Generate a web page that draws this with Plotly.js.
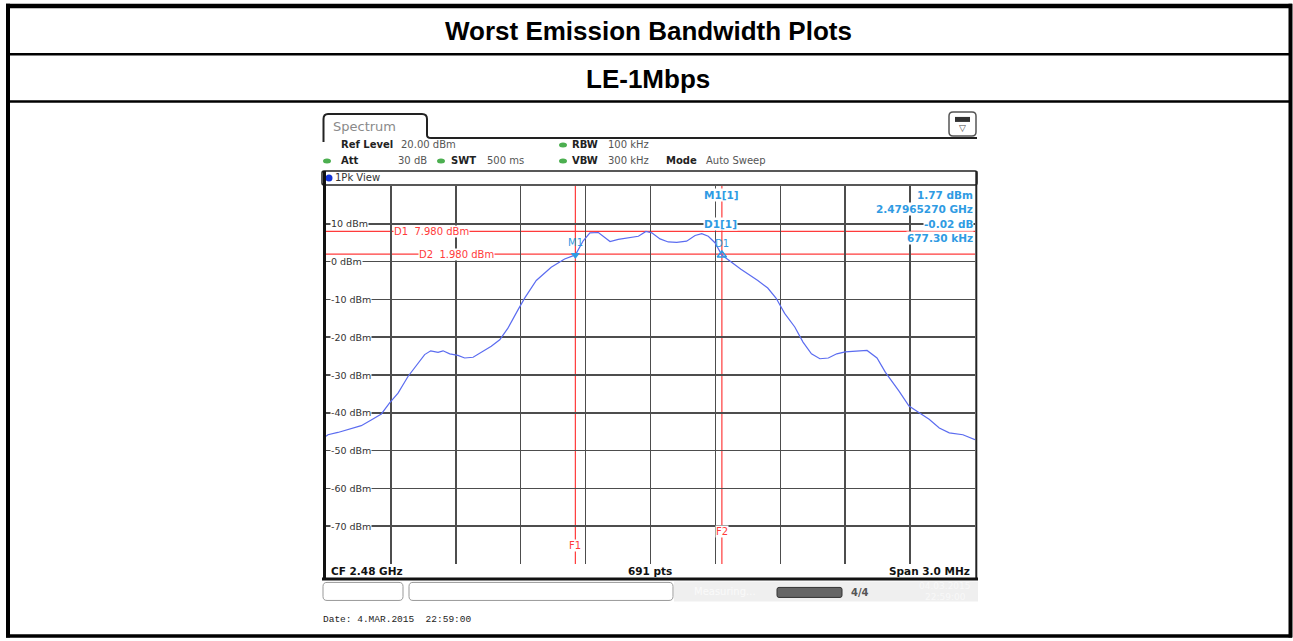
<!DOCTYPE html>
<html><head><meta charset="utf-8">
<script src="https://cdn.plot.ly/plotly-3.0.1.min.js"></script>
<style>html,body{margin:0;padding:0;background:#fff;overflow:hidden}#chart{width:1293px;height:641px}</style>
</head><body><div id="chart"></div>
<script>
// ---------------- DATA ----------------
const titleText = 'Worst Emission Bandwidth Plots';
const subtitleText = 'LE-1Mbps';
const freqMHz = [2478.500, 2478.509, 2478.555, 2478.602, 2478.663, 2478.709, 2478.756, 2478.794, 2478.833, 2478.879,
                 2478.925, 2478.956, 2478.984, 2479.018, 2479.041, 2479.072, 2479.110, 2479.141, 2479.180, 2479.218,
                 2479.264, 2479.303, 2479.341, 2479.388, 2479.419, 2479.472, 2479.511, 2479.541, 2479.603, 2479.653,
                 2479.689, 2479.720, 2479.759, 2479.782, 2479.813, 2479.851, 2479.905, 2479.944, 2479.979, 2480.006,
                 2480.044, 2480.082, 2480.121, 2480.167, 2480.206, 2480.237, 2480.267, 2480.298, 2480.330, 2480.368,
                 2480.418, 2480.496, 2480.542, 2480.581, 2480.620, 2480.667, 2480.705, 2480.744, 2480.783, 2480.822,
                 2480.861, 2480.900, 2480.946, 2481.001, 2481.047, 2481.086, 2481.148, 2481.195, 2481.242, 2481.288,
                 2481.335, 2481.381, 2481.444, 2481.500];
const levelDBm = [-46.2, -45.8, -45.2, -44.5, -43.4, -41.9, -40.3, -37.4, -34.8, -30.4,
                  -26.8, -24.6, -23.6, -24.0, -23.6, -24.4, -24.8, -25.5, -25.3, -24.0,
                  -22.4, -20.7, -17.6, -12.7, -9.6, -5.0, -3.0, -1.5, 0.7, 1.77,
                  5.5, 7.6, 7.7, 6.7, 5.3, 5.9, 6.3, 6.7, 7.98, 7.6,
                  6.0, 5.2, 5.1, 5.4, 6.9, 7.4, 6.7, 5.0, 1.75, 0.1,
                  -2.0, -5.0, -7.0, -9.7, -13.7, -17.3, -21.3, -24.4, -25.7, -25.5,
                  -24.4, -23.9, -23.7, -23.5, -25.5, -29.3, -34.2, -38.2, -40.0, -41.7,
                  -44.0, -45.3, -45.8, -47.1];
const xRangeMHz = [2478.5, 2481.5];
const yRangeDBm = [-80, 20];
const yTickValues = [10, 0, -10, -20, -30, -40, -50, -60, -70];
const yTickLabels = ['10 dBm', '0 dBm', '-10 dBm', '-20 dBm', '-30 dBm', '-40 dBm', '-50 dBm', '-60 dBm', '-70 dBm'];
const refLineLevels = [7.98, 1.98];
const refLineLabels = ['D1\u00a0 7.980 dBm', 'D2\u00a0 1.980 dBm'];
const freqLineValues = [2479.6527, 2480.32995];
const freqLineLabels = ['F1', 'F2'];
const markerFreqs = [2479.6527, 2480.32995];
const markerLevels = [1.77, 1.75];
const markerNames = ['M1', 'D1'];
const markerInfoNames = ['M1[1]', 'D1[1]'];
const markerInfoValues = ['1.77 dBm', '2.47965270 GHz', '-0.02 dB', '677.30 kHz'];
const headerLeft = [['Ref Level', '20.00 dBm'], ['Att', '30 dB'], ['SWT', '500 ms']];
const headerMid = [['RBW', '100 kHz'], ['VBW', '300 kHz']];
const headerMode = ['Mode', 'Auto Sweep'];
const footerTexts = ['CF 2.48 GHz', '691 pts', 'Span 3.0 MHz'];
const traceLabel = '1Pk View';
const tabLabel = 'Spectrum';
const dateText = 'Date: 4.MAR.2015\u00a0\u00a022:59:00';

// ---------------- GEOMETRY HELPERS ----------------
const L = 326, R = 975, T = 186, B = 563.6;
const X = x => (x - L) / (R - L);
const Y = y => (B - y) / (B - T);
const INST = 'DejaVu Sans, Verdana, sans-serif';
const BLUE = '#2f9be3';
const RED = '#ff3b3b';

const shapes = [];
const ann = [];
function line(x0, y0, x1, y1, color, width, layer) {
  shapes.push({type: 'line', xref: 'paper', yref: 'paper', x0: X(x0), y0: Y(y0), x1: X(x1), y1: Y(y1),
    line: {color: color, width: width}, layer: layer || 'above'});
}
function rect(x0, y0, x1, y1, fill, lcolor, lwidth, layer) {
  shapes.push({type: 'rect', xref: 'paper', yref: 'paper', x0: X(x0), y0: Y(y0), x1: X(x1), y1: Y(y1),
    fillcolor: fill, line: {color: lcolor || 'rgba(0,0,0,0)', width: lwidth || 0}, layer: layer || 'above'});
}
function rrect(x0, y0, x1, y1, r, lcolor, lw, fill) {
  const p = `M ${X(x0 + r)},${Y(y0)} L ${X(x1 - r)},${Y(y0)} Q ${X(x1)},${Y(y0)} ${X(x1)},${Y(y0 + r)} ` +
    `L ${X(x1)},${Y(y1 - r)} Q ${X(x1)},${Y(y1)} ${X(x1 - r)},${Y(y1)} L ${X(x0 + r)},${Y(y1)} ` +
    `Q ${X(x0)},${Y(y1)} ${X(x0)},${Y(y1 - r)} L ${X(x0)},${Y(y0 + r)} Q ${X(x0)},${Y(y0)} ${X(x0 + r)},${Y(y0)} Z`;
  shapes.push({type: 'path', xref: 'paper', yref: 'paper', path: p, fillcolor: fill || 'rgba(0,0,0,0)',
    line: {color: lcolor, width: lw}, layer: 'above'});
}
function dot(cx, cy, rx, ry, color) {
  shapes.push({type: 'circle', xref: 'paper', yref: 'paper', x0: X(cx - rx), x1: X(cx + rx), y0: Y(cy - ry), y1: Y(cy + ry),
    fillcolor: color, line: {width: 0}, layer: 'above'});
}
function text(x, y, t, opts) {
  opts = opts || {};
  ann.push({xref: 'paper', yref: 'paper', x: X(x), y: Y(y), text: t, showarrow: false,
    xanchor: opts.xa || 'left', yanchor: 'middle',
    font: {family: opts.family || INST, size: opts.size || 10, color: opts.color || '#333'},
    bgcolor: opts.bg || 'rgba(0,0,0,0)', borderpad: opts.pad === undefined ? 0 : opts.pad});
}

// ---------------- OUTER TABLE ----------------
line(6, 6.3, 1292, 6.3, '#000', 4.5);
line(8, 4, 8, 637, '#000', 4);
line(1290.5, 4, 1290.5, 637, '#000', 4);
line(6, 635.5, 1292, 635.5, '#000', 3.5);
line(8, 54.3, 1290, 54.3, '#000', 2.5);
line(8, 101.7, 1290, 101.7, '#000', 2.5);
text(648, 31, '<b>' + titleText + '</b>', {xa: 'center', family: 'Liberation Sans, Arial, sans-serif', size: 26, color: '#000'});
text(648, 79, '<b>' + subtitleText + '</b>', {xa: 'center', family: 'Liberation Sans, Arial, sans-serif', size: 26, color: '#000'});

// ---------------- INSTRUMENT FRAME ----------------
const tabPath = `M ${X(323.5)},${Y(142)} L ${X(323.5)},${Y(119)} Q ${X(323.5)},${Y(114)} ${X(328)},${Y(114)} ` +
  `L ${X(422)},${Y(114)} Q ${X(427)},${Y(114)} ${X(427)},${Y(119)} L ${X(427)},${Y(135)} Q ${X(427)},${Y(138)} ${X(431)},${Y(138)} L ${X(977)},${Y(138)}`;
shapes.push({type: 'path', xref: 'paper', yref: 'paper', path: tabPath, line: {color: '#222', width: 2}, layer: 'above'});
text(332, 126.5, tabLabel, {size: 13, color: '#8a8a8a'});
// icon top right
rrect(949, 112, 976, 136, 4, '#555', 1.5, '#fff');
rect(955, 117, 970, 122, '#333');
text(962.5, 128, '\u25BD', {xa: 'center', size: 9, color: '#444'});

// header parameter rows
text(340, 145, '<b>' + headerLeft[0][0] + '</b>', {color: '#222'});
text(400, 145, headerLeft[0][1], {color: '#555'});
dot(327, 161, 4, 2.5, '#4caf50');
text(340, 161, '<b>' + headerLeft[1][0] + '</b>', {color: '#222'});
text(428, 161, headerLeft[1][1], {xa: 'right', color: '#555'});
dot(441, 161, 4, 2.5, '#4caf50');
text(450, 161, '<b>' + headerLeft[2][0] + '</b>', {color: '#222'});
text(486, 161, headerLeft[2][1], {color: '#555'});
dot(563, 145, 4, 2.5, '#4caf50');
text(571, 145, '<b>' + headerMid[0][0] + '</b>', {color: '#222'});
text(607, 145, headerMid[0][1], {color: '#555'});
dot(563, 161, 4, 2.5, '#4caf50');
text(571, 161, '<b>' + headerMid[1][0] + '</b>', {color: '#222'});
text(607, 161, headerMid[1][1], {color: '#555'});
text(665, 161, '<b>' + headerMode[0] + '</b>', {color: '#222'});
text(705, 161, headerMode[1], {color: '#555'});

// trace label row
rrect(322, 171, 977, 185, 2, '#222', 1.5);
dot(329, 178, 3.5, 3.5, '#1433d6');
text(334, 178, traceLabel, {size: 10, color: '#333'});

// frame borders
line(324.5, 171, 324.5, 579, '#111', 3);
line(976.3, 171, 976.3, 579, '#222', 2);
line(322, 578.5, 978, 578.5, '#111', 3);
// footer
text(330, 571, '<b>' + footerTexts[0] + '</b>', {size: 10.5, color: '#111'});
text(650, 571, '<b>' + footerTexts[1] + '</b>', {xa: 'center', size: 10.5, color: '#111'});
text(971, 571, '<b>' + footerTexts[2] + '</b>', {xa: 'right', size: 10.5, color: '#111'});

// status bar
rrect(323, 582, 403, 600, 4, '#999', 1);
rrect(409, 582, 673, 600, 4, '#999', 1);
rect(674, 581, 978, 601, '#efefef');
text(693, 591, 'Measuring...', {size: 10, color: '#fafafa'});
rrect(777, 587, 842, 597, 2, '#333', 1, '#666');
text(850, 592, '<b>4/4</b>', {size: 10, color: '#555'});
text(945, 586, '04.03.2015', {xa: 'center', size: 9, color: '#f8f8f8'});
text(945, 597, '22:59:00', {xa: 'center', size: 9, color: '#f8f8f8'});
text(322, 619, dateText, {family: 'Liberation Mono, Courier New, monospace', size: 9.5, color: '#222'});

// ---------------- PLOT CONTENT ----------------
// white box behind marker info (covers grid)
shapes.push({type: 'rect', xref: 'paper', yref: 'paper', x0: X(697), x1: 1, y0: Y(243), y1: 1,
  fillcolor: '#fff', line: {width: 0}, layer: 'between'});
// reference (display) lines
refLineLevels.forEach(v => shapes.push({type: 'line', xref: 'paper', yref: 'y', x0: 0, x1: 1, y0: v, y1: v,
  line: {color: RED, width: 1.2}, layer: 'between'}));
freqLineValues.forEach(v => shapes.push({type: 'line', xref: 'x', yref: 'paper', x0: v, x1: v, y0: 0, y1: 1,
  line: {color: RED, width: 1.2}, layer: 'between'}));

// y labels inside plot
yTickValues.forEach((v, i) => ann.push({xref: 'paper', yref: 'y', x: X(330), y: v, text: yTickLabels[i],
  showarrow: false, xanchor: 'left', yanchor: 'middle', bgcolor: '#fff', borderpad: 0,
  font: {family: INST, size: 9.5, color: '#333'}}));
// ref line labels
ann.push({xref: 'paper', yref: 'y', x: X(393), y: refLineLevels[0], text: refLineLabels[0], showarrow: false,
  xanchor: 'left', yanchor: 'middle', bgcolor: '#fff', borderpad: 0, font: {family: INST, size: 10, color: RED}});
ann.push({xref: 'paper', yref: 'y', x: X(418), y: refLineLevels[1], text: refLineLabels[1], showarrow: false,
  xanchor: 'left', yanchor: 'middle', bgcolor: '#fff', borderpad: 0, font: {family: INST, size: 10, color: RED}});
// freq line labels
ann.push({xref: 'x', yref: 'paper', x: freqLineValues[0], y: Y(545), text: freqLineLabels[0], showarrow: false,
  xanchor: 'center', yanchor: 'middle', bgcolor: '#fff', borderpad: 0, font: {family: INST, size: 10, color: RED}});
ann.push({xref: 'x', yref: 'paper', x: freqLineValues[1], y: Y(531), text: freqLineLabels[1], showarrow: false,
  xanchor: 'center', yanchor: 'middle', bgcolor: '#fff', borderpad: 0, font: {family: INST, size: 10, color: RED}});
// marker labels
ann.push({xref: 'x', yref: 'y', x: markerFreqs[0], y: markerLevels[0], yshift: 12, text: markerNames[0], showarrow: false,
  xanchor: 'center', yanchor: 'middle', font: {family: INST, size: 10, color: BLUE}});
ann.push({xref: 'x', yref: 'y', x: markerFreqs[1], y: markerLevels[1], yshift: 11, text: markerNames[1], showarrow: false,
  xanchor: 'center', yanchor: 'middle', font: {family: INST, size: 10, color: BLUE}});
// marker info table
text(703, 194.5, '<b>' + markerInfoNames[0] + '</b>', {size: 10.5, color: BLUE, bg: '#fff'});
text(703, 223.5, '<b>' + markerInfoNames[1] + '</b>', {size: 10.5, color: BLUE, bg: '#fff'});
[194.5, 208.5, 223.5, 238].forEach((yy, i) =>
  text(974, yy, '<b>' + markerInfoValues[i] + '</b>', {xa: 'right', size: 10.5, color: BLUE, bg: '#fff'}));

const traces = [
  {x: freqMHz, y: levelDBm, type: 'scatter', mode: 'lines', line: {color: '#5b6cf0', width: 1.2}, hoverinfo: 'skip'},
  {x: [markerFreqs[0]], y: [markerLevels[0]], type: 'scatter', mode: 'markers',
   marker: {symbol: 'triangle-down', size: 8, color: BLUE}, hoverinfo: 'skip'},
  {x: [markerFreqs[1]], y: [markerLevels[1]], type: 'scatter', mode: 'markers',
   marker: {symbol: 'triangle-up-open', size: 8, color: BLUE, line: {width: 1.5, color: BLUE}}, hoverinfo: 'skip'}
];

const layout = {
  width: 1293, height: 641,
  margin: {l: L, r: 1293 - R, t: T, b: 641 - B, pad: 0},
  paper_bgcolor: '#fff', plot_bgcolor: '#fff',
  showlegend: false,
  xaxis: {range: xRangeMHz, tick0: xRangeMHz[0], dtick: 0.3, showgrid: true, gridcolor: '#4d4d4d', gridwidth: 1.5,
          showticklabels: false, ticks: '', zeroline: false, showline: false, fixedrange: true},
  yaxis: {range: yRangeDBm, tick0: yRangeDBm[0], dtick: 10, showgrid: true, gridcolor: '#4d4d4d', gridwidth: 1.5,
          showticklabels: false, ticks: '', zeroline: false, showline: false, fixedrange: true},
  shapes: shapes,
  annotations: ann
};
Plotly.newPlot('chart', traces, layout, {displayModeBar: false, staticPlot: true});
</script>
</body></html>
